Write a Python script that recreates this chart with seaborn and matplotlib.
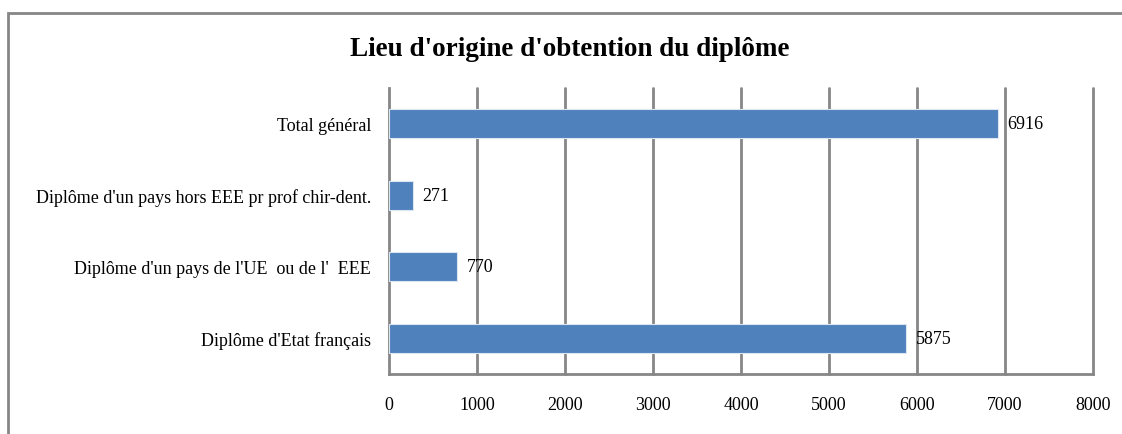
import matplotlib
matplotlib.use("Agg")
import matplotlib.pyplot as plt
import matplotlib.patches as mpatches
import seaborn as sns
import pandas as pd

# Data
categories = [
    "Total général",
    "Diplôme d'un pays hors EEE pr prof chir-dent.",
    "Diplôme d'un pays de l'UE  ou de l'  EEE",
    "Diplôme d'Etat français",
]
values = [6916, 271, 770, 5875]
x_ticks = [0, 1000, 2000, 3000, 4000, 5000, 6000, 7000, 8000]
title = "Lieu d'origine d'obtention du diplôme"

df = pd.DataFrame({"categorie": categories, "valeur": values})

sns.set_theme(style="white")
plt.rcParams["font.family"] = ["Liberation Serif", "DejaVu Serif"]
plt.rcParams["text.color"] = "black"
plt.rcParams["xtick.color"] = "black"
plt.rcParams["ytick.color"] = "black"

W, H = 1122, 435
fig = plt.figure(figsize=(W / 100, H / 100), dpi=100)
ax = fig.add_axes([389 / W, 1 - 375 / H, (1093 - 389) / W, (375 - 89) / H])

grid_col = "#868686"
bar_col = "#4F81BD"
fs = 13

sns.barplot(data=df, y="categorie", x="valeur", orient="h", color=bar_col,
            width=0.4, saturation=1, ax=ax)
for p in ax.patches:
    p.set_edgecolor("#dce6f2")
    p.set_linewidth(0.8)
    p.set_zorder(3)

ax.set_xlim(0, 8000)
ax.set_ylim(3.5, -0.5)
ax.set_xticks(x_ticks)
ax.set_xticklabels([str(t) for t in x_ticks], fontsize=fs)
ax.set_yticks([i - 0.5 for i in range(5)], minor=False)
ax.set_yticklabels([])
ax.set_yticks(range(len(categories)), minor=True)
ax.set_yticklabels(categories, minor=True, fontsize=fs)
ax.tick_params(axis="y", which="minor", length=0, pad=13, labelcolor="black")
ax.tick_params(axis="y", which="major", length=6, width=2, color=grid_col, direction="out")
ax.tick_params(axis="x", length=6, width=2, color=grid_col, direction="out", pad=10,
               labelcolor="black")
ax.set_xlabel("")
ax.set_ylabel("")

# Vertical gridlines behind the bars
for t in x_ticks[1:]:
    ax.axvline(t, color=grid_col, linewidth=2, zorder=1, clip_on=False)
for s in ["top", "right"]:
    ax.spines[s].set_visible(False)
for s in ["left", "bottom"]:
    ax.spines[s].set_color(grid_col)
    ax.spines[s].set_linewidth(2)
    ax.spines[s].set_zorder(2)

for i, v in enumerate(values):
    ax.annotate(str(v), xy=(v, i), xytext=(7, 0), textcoords="offset points",
                va="center", ha="left", fontsize=fs, color="black", zorder=5)

fig.text(570 / W, 1 - 50 / H, title, ha="center", va="center",
         fontsize=19.5, fontweight="bold", color="black")

# Chart-area border
fig.patches.append(mpatches.Rectangle((8 / W, -0.1), 1.2, 1 - 14 / H + 0.1,
                                      transform=fig.transFigure, fill=False,
                                      edgecolor=grid_col, linewidth=2))

fig.savefig("out.png", dpi=100)
